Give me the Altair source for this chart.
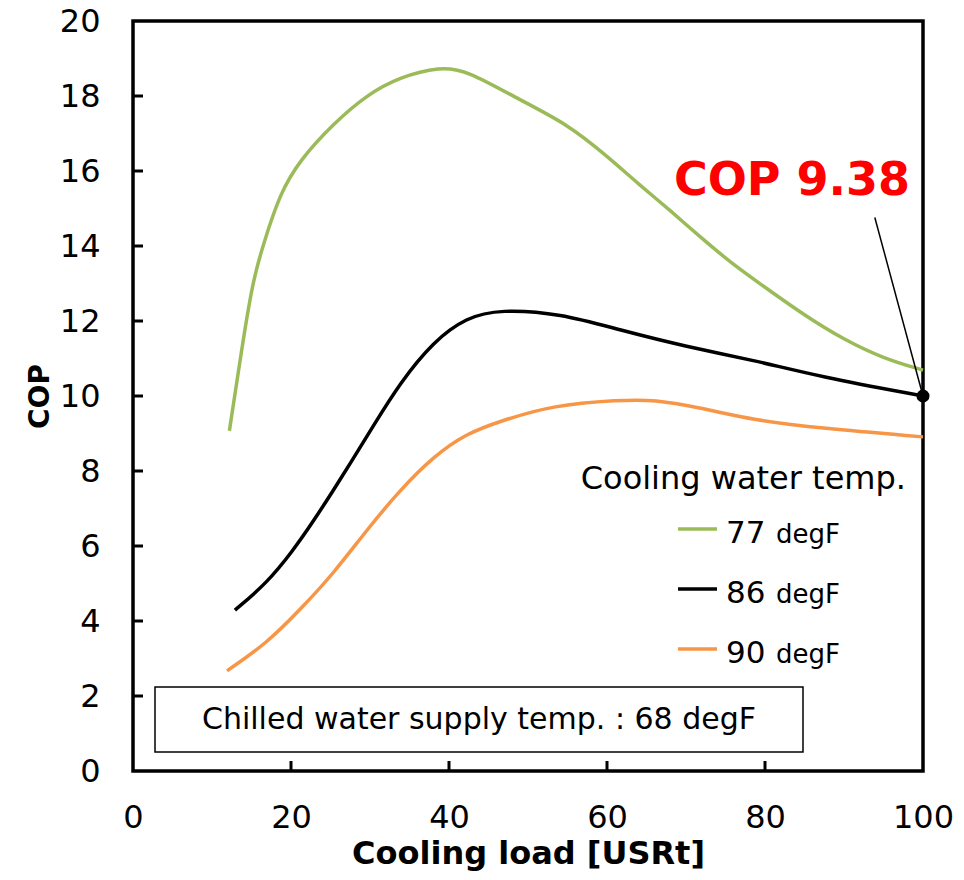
import altair as alt
import pandas as pd

# ---- data ----
series_names = ["77 degF", "86 degF", "90 degF"]
series_colors = ["#9BBB59", "#000000", "#F79646"]

load_77 = [12.2, 14.0, 15.2, 16.5, 18.6, 21.1, 25.4, 29.6, 33.8, 38.9, 42.2, 49.0, 55.0, 60.0, 64.0, 68.0, 72.0, 76.0, 80.0, 85.0, 90.0, 95.0, 100.0]
cop_77 = [9.07, 11.58, 13.09, 14.05, 15.4, 16.29, 17.27, 18.03, 18.51, 18.78, 18.69, 17.89, 17.25, 16.4, 15.65, 14.95, 14.2, 13.5, 12.9, 12.15, 11.5, 11.0, 10.69]

load_86 = [12.9, 16.9, 20.3, 22.8, 25.4, 27.5, 30.4, 33.8, 38.0, 42.2, 46.5, 54.1, 61.6, 70.1, 78.5, 87.0, 100.0]
cop_86 = [4.29, 5.0, 5.89, 6.65, 7.5, 8.2, 9.2, 10.35, 11.45, 12.1, 12.31, 12.2, 11.76, 11.31, 10.96, 10.51, 10.0]

load_90 = [11.9, 16.9, 21.1, 25.4, 29.6, 33.8, 38.0, 42.2, 46.5, 53.2, 61.6, 65.9, 72.2, 78.5, 87.0, 100.0]
cop_90 = [2.67, 3.4, 4.29, 5.27, 6.43, 7.49, 8.38, 9.0, 9.33, 9.76, 9.89, 9.91, 9.67, 9.36, 9.14, 8.91]

x_tick_values = [0, 20, 40, 60, 80, 100]
y_tick_values = [0, 2, 4, 6, 8, 10, 12, 14, 16, 18, 20]
x_inner_ticks = [20, 40, 60, 80]
y_inner_ticks = [2, 4, 6, 8, 10, 12, 14, 16, 18]

highlight_load = [100.0]
highlight_cop = [10.0]
pointer_from = (93.9, 14.76)
annotation_text = "COP 9.38"
box_text = "Chilled water supply temp. : 68 degF"
legend_title = "Cooling water temp."
legend_nums = ["77", "86", "90"]

FONT = "DejaVu Sans"
W, H = 790, 750

rows = []
for name, xs, ys in zip(series_names, [load_77, load_86, load_90], [cop_77, cop_86, cop_90]):
    for a, b in zip(xs, ys):
        rows.append({"series": name, "load": a, "cop": b})
df = pd.DataFrame(rows)

x_scale = alt.Scale(domain=[0, 100], nice=False)
y_scale = alt.Scale(domain=[0, 20], nice=False)
color_scale = alt.Scale(domain=series_names, range=series_colors)

x_axis = alt.Axis(
    title="Cooling load [USRt]", values=x_tick_values, grid=False, domain=False, ticks=False,
    labelFontSize=32, labelColor="black", labelPadding=31, labelFlush=False, labelOverlap=False,
    labelFont=FONT, titleFont=FONT,
    titleFontSize=32, titleFontWeight="bold", titleColor="black",
    titleX=395, titleY=92, titleBaseline="alphabetic", titleAlign="center")
y_axis = alt.Axis(
    title="COP", values=y_tick_values, grid=False, domain=False, ticks=False,
    labelFontSize=32, labelColor="black", labelPadding=33, labelFlush=False, labelOverlap=False,
    labelFont=FONT, titleFont=FONT,
    titleFontSize=28, titleFontWeight="bold", titleColor="black",
    titleX=-93, titleY=375, titleAngle=270, titleBaseline="middle", titleAlign="center")

X = lambda f: alt.X(f, scale=x_scale, axis=x_axis)
Y = lambda f: alt.Y(f, scale=y_scale, axis=y_axis)

lines = alt.Chart(df).mark_line(strokeWidth=3.5, interpolate="basis").encode(
    x=X("load:Q"), y=Y("cop:Q"),
    color=alt.Color("series:N", scale=color_scale, legend=None),
)

yt = alt.Chart(pd.DataFrame({"cop": y_inner_ticks})).mark_rule(color="black", strokeWidth=3).encode(
    y=Y("cop:Q"), x=alt.value(0), x2=alt.value(10))
xt = alt.Chart(pd.DataFrame({"load": x_inner_ticks})).mark_rule(color="black", strokeWidth=3).encode(
    x=X("load:Q"), y=alt.value(H), y2=alt.value(H - 10))

one = pd.DataFrame({"a": [0]})

box = alt.Chart(one).mark_rect(fill="white", stroke="black", strokeWidth=1.5).encode(
    x=alt.value(22), x2=alt.value(670), y=alt.value(666), y2=alt.value(731))
box_lbl = alt.Chart(one).mark_text(text=box_text, font=FONT, fontSize=30, color="black",
                                   align="center", baseline="middle").encode(
    x=alt.value(346), y=alt.value(699))

legend_layers = [
    alt.Chart(one).mark_text(text=legend_title, font=FONT, fontSize=32, color="black",
                             align="right", baseline="alphabetic").encode(x=alt.value(773), y=alt.value(468))
]
for i, (name, col, num) in enumerate(zip(series_names, series_colors, legend_nums)):
    ly = 508 + 60 * i
    legend_layers.append(alt.Chart(one).mark_rule(color=col, strokeWidth=3.5).encode(
        x=alt.value(545), x2=alt.value(584), y=alt.value(ly)))
    legend_layers.append(alt.Chart(one).mark_text(text=num, font=FONT, fontSize=31, color="black",
                                                  align="left", baseline="alphabetic").encode(
        x=alt.value(593), y=alt.value(ly + 14)))
    legend_layers.append(alt.Chart(one).mark_text(text="degF", font=FONT, fontSize=26, color="black",
                                                  align="left", baseline="alphabetic").encode(
        x=alt.value(643), y=alt.value(ly + 14)))

ptr = alt.Chart(pd.DataFrame({"load": [pointer_from[0]], "cop": [pointer_from[1]],
                              "load2": highlight_load, "cop2": highlight_cop})).mark_rule(
    color="black", strokeWidth=1.5).encode(
    x=X("load:Q"), y=Y("cop:Q"), x2="load2:Q", y2="cop2:Q")
dot = alt.Chart(pd.DataFrame({"load": highlight_load, "cop": highlight_cop})).mark_circle(
    size=170, color="black", opacity=1).encode(x=X("load:Q"), y=Y("cop:Q"))

ann = alt.Chart(one).mark_text(text=annotation_text, font=FONT, fontSize=46, fontWeight="bold",
                               color="#FF0000", align="center", baseline="alphabetic").encode(
    x=alt.value(659), y=alt.value(174))

chart = alt.layer(lines, box, box_lbl, yt, xt, *legend_layers, ptr, dot, ann).properties(
    width=W, height=H, autosize="none",
    padding={"left": 125, "top": 13, "right": 33, "bottom": 101},
).configure(font=FONT).configure_view(stroke="black", strokeWidth=3.5)

chart.save("out.html", embed_options={"renderer": "svg", "actions": False})
